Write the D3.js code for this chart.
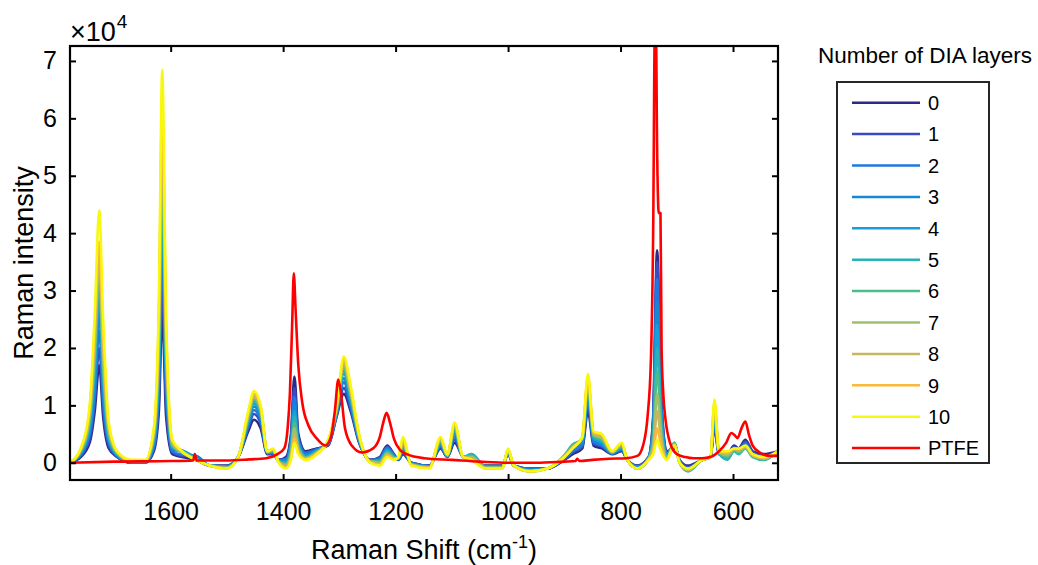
<!DOCTYPE html>
<html>
<head>
<meta charset="utf-8">
<script src="https://cdn.jsdelivr.net/npm/d3@7"></script>
<style>
    body { margin: 0; background: #fff; }
    svg { font-family: "Liberation Sans", Arial, sans-serif; }
</style>
</head>
<body>
<div id="chart"></div>
<script>
// Raman shift grid (cm^-1) shared by the DIA layer spectra
const shift = [
    1780, 1760, 1744, 1735, 1727, 1720, 1710, 1695, 1670, 1645,
    1630, 1621, 1615, 1608, 1597, 1580, 1555, 1530, 1500, 1480,
    1462, 1452, 1440, 1428, 1418, 1408, 1395, 1386, 1380, 1373,
    1360, 1340, 1320, 1305, 1292, 1280, 1265, 1245, 1228, 1215,
    1203, 1195, 1187, 1172, 1140, 1120, 1108, 1095, 1080, 1065,
    1040, 1010, 1000, 990, 960, 930, 900, 885, 868, 858,
    848, 833, 815, 798, 788, 770, 750, 742, 735, 728,
    718, 704, 695, 680, 655, 640, 633, 625, 610, 598,
    590, 578, 565, 545, 520
];

// intensities in units of 10^4 counts
const layer0 = [
    0, .10, .35, .9, 1.7, .8, .25, .1, 0, 0,
    .2, .9, 2.6, .8, .15, .1, .05, -.05, -.05, .1,
    .55, .75, .6, .15, .15, .05, .1, .5, 1.5, .5,
    .2, .25, .3, .8, 1.2, .9, .35, .05, .1, .3,
    .15, .05, .15, 0, -.05, .25, .1, .35, .1, .05,
    -.05, -.05, .15, -.05, -.1, -.1, .05, .15, .25, .9,
    .3, .25, .15, .2, .05, -.05, .1, .8, 3.7, 1.2,
    .2, .25, .05, -.05, .05, .1, .6, .15, .15, .3,
    .25, .4, .2, .15, .2
];
const layer1 = [
    0, .12, .42, 1.05, 2.0, .95, .3, .1, 0, 0,
    .24, 1.1, 3.1, 1.0, .18, .12, .1, -.05, -.06, .1,
    .6, .85, .68, .16, .16, .05, .08, .45, 1.3, .45,
    .18, .24, .31, .82, 1.3, .95, .37, .05, .09, .28,
    .14, .05, .18, 0, -.05, .27, .1, .4, .1, .06,
    -.06, -.06, .16, -.05, -.1, -.1, .06, .18, .28, 1.0,
    .33, .28, .16, .22, .05, -.06, .1, .75, 3.5, 1.15,
    .18, .28, .04, -.07, .05, .1, .65, .15, .12, .28,
    .23, .37, .18, .12, .2
];
const layer2 = [
    0, .14, .5, 1.2, 2.3, 1.1, .35, .12, .01, .01,
    .28, 1.3, 3.6, 1.2, .2, .14, .12, -.05, -.06, .1,
    .65, .92, .74, .17, .17, .04, .06, .4, 1.15, .4,
    .16, .23, .32, .84, 1.4, 1.0, .38, .04, .07, .26,
    .13, .06, .2, -.01, -.06, .29, .11, .45, .1, .08,
    -.06, -.06, .17, -.05, -.11, -.1, .07, .2, .31, 1.1,
    .36, .3, .16, .23, .05, -.06, .09, .68, 3.2, 1.05,
    .16, .3, .03, -.09, .05, .1, .7, .16, .1, .26,
    .21, .34, .16, .1, .2
];
const layer3 = [
    0, .15, .55, 1.35, 2.6, 1.25, .38, .12, .01, .01,
    .32, 1.5, 4.0, 1.4, .23, .2, .1, -.05, -.07, .1,
    .68, .98, .79, .17, .18, .04, .04, .35, 1.0, .37,
    .14, .22, .33, .86, 1.47, 1.05, .4, .04, .06, .24,
    .12, .06, .22, -.01, -.06, .31, .11, .5, .1, .12,
    -.07, -.07, .18, -.05, -.12, -.1, .09, .25, .34, 1.15,
    .39, .33, .17, .25, .05, -.07, .09, .6, 2.8, .95,
    .14, .33, .02, -.11, .05, .1, .75, .16, .08, .24,
    .19, .31, .14, .08, .2
];
const layer4 = [
    0, .17, .62, 1.55, 2.9, 1.4, .42, .14, .02, .02,
    .36, 1.7, 4.4, 1.55, .26, .22, .08, -.05, -.07, .1,
    .72, 1.03, .83, .18, .19, .03, .02, .3, .9, .33,
    .12, .21, .34, .88, 1.55, 1.1, .41, .03, .04, .22,
    .11, .07, .25, -.02, -.07, .33, .12, .55, .1, .15,
    -.07, -.07, .19, -.05, -.13, -.1, .11, .3, .37, 1.2,
    .42, .35, .17, .26, .05, -.08, .08, .5, 2.4, .85,
    .12, .35, .01, -.13, .05, .1, .8, .17, .06, .22,
    .17, .28, .12, .06, .2
];
const layer5 = [
    0, .18, .68, 1.7, 3.1, 1.55, .46, .15, .02, .02,
    .4, 1.85, 4.7, 1.7, .28, .2, .07, -.05, -.08, .1,
    .75, 1.07, .87, .18, .2, .03, 0, .25, .8, .3,
    .1, .2, .35, .9, 1.6, 1.14, .43, .03, .03, .2,
    .1, .07, .28, -.02, -.07, .35, .12, .58, .1, .15,
    -.08, -.08, .2, -.05, -.15, -.1, .13, .32, .4, 1.3,
    .45, .38, .18, .28, .05, -.1, .08, .42, 2.0, .75,
    .1, .35, 0, -.15, .05, .1, .85, .17, .06, .2,
    .15, .25, .1, .05, .2
];
const layer6 = [
    0, .2, .75, 1.85, 3.3, 1.7, .5, .16, .03, .03,
    .44, 2.0, 5.0, 1.85, .3, .18, .06, -.05, -.08, .1,
    .78, 1.1, .9, .19, .21, .02, -.02, .2, .7, .27,
    .09, .19, .36, .92, 1.65, 1.18, .44, .02, .02, .18,
    .09, .08, .31, -.03, -.08, .37, .13, .6, .1, .12,
    -.08, -.08, .21, -.05, -.14, -.1, .12, .3, .42, 1.35,
    .47, .4, .18, .29, .05, -.1, .07, .35, 1.6, .62,
    .09, .34, 0, -.14, .05, .1, .9, .18, .1, .22,
    .17, .26, .11, .06, .2
];
const layer7 = [
    0, .21, .8, 2.0, 3.5, 1.85, .55, .17, .03, .03,
    .48, 2.2, 5.4, 2.0, .33, .18, .06, -.05, -.09, .1,
    .81, 1.14, .93, .19, .22, .02, -.04, .15, .6, .24,
    .08, .18, .37, .94, 1.7, 1.22, .46, .02, 0, .16,
    .08, .08, .34, -.03, -.08, .39, .13, .63, .1, .1,
    -.09, -.09, .22, -.05, -.14, -.1, .11, .28, .43, 1.4,
    .49, .43, .19, .31, .05, -.1, .07, .28, 1.2, .5,
    .08, .33, 0, -.13, .05, .1, .95, .18, .13, .23,
    .2, .27, .12, .07, .2
];
const layer8 = [
    0, .22, .87, 2.2, 3.7, 2.0, .6, .18, .04, .04,
    .52, 2.4, 5.8, 2.15, .35, .2, .05, -.05, -.09, .1,
    .84, 1.17, .95, .2, .23, .01, -.06, .12, .5, .2,
    .07, .17, .38, .96, 1.75, 1.26, .47, .01, -.02, .14,
    .07, .09, .37, -.04, -.09, .41, .14, .65, .1, .08,
    -.09, -.09, .23, -.05, -.15, -.1, .1, .27, .44, 1.45,
    .51, .45, .19, .32, .05, -.1, .06, .22, .9, .4,
    .07, .32, 0, -.12, .05, .1, 1.0, .19, .16, .24,
    .22, .28, .13, .08, .2
];
const layer9 = [
    0, .24, .93, 2.35, 3.85, 2.2, .65, .19, .04, .04,
    .56, 2.6, 6.2, 2.3, .38, .2, .05, -.05, -.1, .1,
    .87, 1.2, .98, .2, .24, .01, -.08, .08, .42, .18,
    .06, .16, .39, .98, 1.8, 1.3, .49, .01, -.03, .12,
    .06, .09, .4, -.04, -.09, .43, .14, .68, .1, .06,
    -.1, -.1, .24, -.05, -.15, -.1, .1, .26, .45, 1.5,
    .53, .48, .2, .34, .05, -.1, .06, .18, .6, .3,
    .06, .31, 0, -.11, .05, .1, 1.05, .19, .18, .25,
    .24, .29, .14, .09, .2
];
const layer10 = [
    0, .25, 1.0, 2.6, 4.4, 2.5, .7, .2, .05, .05,
    .6, 2.8, 6.85, 2.5, .4, .2, .05, -.05, -.1, .1,
    .9, 1.25, 1.0, .2, .25, 0, -.1, .05, .35, .15,
    .05, .15, .4, 1.0, 1.85, 1.35, .5, 0, -.05, .1,
    .05, .1, .45, -.05, -.1, .45, .15, .7, .1, .05,
    -.1, -.1, .25, -.05, -.15, -.1, .1, .25, .45, 1.55,
    .55, .5, .2, .35, .05, -.1, .05, .15, .4, .2,
    .05, .3, 0, -.1, .05, .1, 1.1, .2, .2, .25,
    .25, .3, .15, .1, .2
];

const ptfeShift = [
    1780, 1700, 1600, 1560, 1557, 1554, 1500, 1460, 1430, 1410,
    1398, 1392, 1388, 1384, 1381, 1378, 1373, 1366, 1355, 1340,
    1325, 1315, 1308, 1302, 1297, 1290, 1278, 1260, 1240, 1228,
    1222, 1216, 1210, 1203, 1192, 1180, 1150, 1100, 1050, 1000,
    950, 900, 880, 877, 873, 850, 820, 790, 770, 760,
    752, 746, 742, 739, 737, 735, 732, 729, 727, 724,
    720, 712, 700, 685, 670, 655, 640, 625, 612, 603,
    597, 592, 585, 578, 572, 565, 551, 535, 520
];
const ptfeIntensity = [
    0.0, 0.02, 0.03, 0.04, 0.15, 0.04, 0.04, 0.06, 0.08, 0.15,
    0.25, 0.6, 1.2, 2.4, 3.3, 2.7, 1.7, 1.05, 0.65, 0.42,
    0.3, 0.45, 0.9, 1.45, 1.2, 0.6, 0.3, 0.18, 0.25, 0.45,
    0.7, 0.87, 0.7, 0.42, 0.22, 0.15, 0.08, 0.05, 0.02, 0.0,
    0.0, 0.02, 0.03, 0.07, 0.03, 0.05, 0.07, 0.08, 0.12, 0.3,
    0.8, 1.8, 4.0, 7.5, 7.5, 5.5, 4.35, 4.35, 2.0, 1.2,
    0.75, 0.35, 0.15, 0.1, 0.08, 0.08, 0.1, 0.2, 0.35, 0.52,
    0.48, 0.43, 0.6, 0.72, 0.5, 0.3, 0.17, 0.12, 0.12
];

const layerNames = ["0", "1", "2", "3", "4", "5", "6", "7", "8", "9", "10"];
const layerColors = [
    "#2c2a86", "#3a4ac0", "#1f78e0", "#1489d2", "#169fd8", "#27b2b8",
    "#4cbd8a", "#9dc06c", "#c7b65d", "#fbb83c", "#f8f80f"
];
const xTicks = [1600, 1400, 1200, 1000, 800, 600];
const yTicks = [0, 1, 2, 3, 4, 5, 6, 7];

function RamanVis(parent) {
    let vis = this;

    vis.parent = d3.select(parent);
    vis.series = [layer0, layer1, layer2, layer3, layer4, layer5,
        layer6, layer7, layer8, layer9, layer10].map(function(vals, i) {
        return {
            name: layerNames[i],
            color: layerColors[i],
            values: shift.map((s, j) => ({x: s, y: vals[j]}))
        };
    });
    vis.series.push({
        name: "PTFE",
        color: "#ff0000",
        values: ptfeShift.map((s, j) => ({x: s, y: ptfeIntensity[j]}))
    });

    vis.initVis();
}

RamanVis.prototype.initVis = function() {
    let vis = this;

    vis.margin = {"top": 46, "left": 70, "right": 260, "bottom": 85};
    vis.width = 1038 - vis.margin.left - vis.margin.right;
    vis.height = 565 - vis.margin.top - vis.margin.bottom;

    vis.root = vis.parent.append("svg")
        .attr("width", 1038)
        .attr("height", 565);

    vis.svg = vis.root.append("g")
        .attr("transform", "translate(" + vis.margin.left + "," + vis.margin.top + ")");

    vis.x = d3.scaleLinear()
        .domain([1779, 520])
        .range([0, vis.width]);
    vis.y = d3.scaleLinear()
        .domain([-0.3, 7.26])
        .range([vis.height, 0]);

    vis.svg.append("clipPath")
        .attr("id", "plot-clip")
        .append("rect")
        .attr("width", vis.width)
        .attr("height", vis.height);

    vis.lineGroup = vis.svg.append("g")
        .attr("clip-path", "url(#plot-clip)");

    // axes, ticks pointing inward like MATLAB
    vis.svg.append("g")
        .attr("class", "axis")
        .attr("transform", "translate(0," + vis.height + ")")
        .call(d3.axisBottom(vis.x).tickValues(xTicks).tickSize(-6).tickPadding(22)
            .tickFormat(d3.format("d")));
    vis.svg.append("g")
        .attr("class", "axis")
        .call(d3.axisTop(vis.x).tickValues(xTicks).tickSize(-6).tickFormat(""));
    vis.svg.append("g")
        .attr("class", "axis")
        .call(d3.axisLeft(vis.y).tickValues(yTicks).tickSize(-6).tickPadding(13)
            .tickFormat(d3.format("d")));
    vis.svg.append("g")
        .attr("class", "axis")
        .attr("transform", "translate(" + vis.width + ",0)")
        .call(d3.axisRight(vis.y).tickValues(yTicks).tickSize(-6).tickFormat(""));

    vis.svg.selectAll(".axis .domain").remove();
    vis.svg.selectAll(".axis line")
        .attr("stroke", "#000")
        .attr("stroke-width", 2);
    vis.svg.selectAll(".axis text")
        .attr("fill", "#000")
        .style("font-family", "Liberation Sans, Arial, sans-serif")
        .style("font-size", "25px");

    vis.svg.append("rect")
        .attr("width", vis.width)
        .attr("height", vis.height)
        .attr("fill", "none")
        .attr("stroke", "#000")
        .attr("stroke-width", 2.2);

    // x10^4 multiplier
    let expo = vis.root.append("text")
        .attr("x", 70)
        .attr("y", 41)
        .style("font-size", "27px")
        .text("\u00d710");
    expo.append("tspan")
        .attr("dx", 1)
        .attr("dy", -13)
        .style("font-size", "19px")
        .text("4");

    let xLabel = vis.root.append("text")
        .attr("x", vis.margin.left + vis.width / 2)
        .attr("y", 559)
        .attr("text-anchor", "middle")
        .style("font-size", "27px")
        .text("Raman Shift (cm");
    xLabel.append("tspan")
        .attr("dy", -11)
        .style("font-size", "18px")
        .text("-1");
    xLabel.append("tspan")
        .attr("dy", 11)
        .text(")");

    vis.root.append("text")
        .attr("transform", "translate(33," + (vis.margin.top + vis.height / 2) + ") rotate(-90)")
        .attr("text-anchor", "middle")
        .style("font-size", "27px")
        .text("Raman intensity");

    vis.updateVis();
    vis.drawLegend();
};

RamanVis.prototype.updateVis = function() {
    let vis = this;

    let line = d3.line()
        .x(d => vis.x(d.x))
        .y(d => vis.y(d.y))
        .curve(d3.curveMonotoneX);

    vis.lineGroup.selectAll("path.spectrum")
        .data(vis.series)
        .enter()
        .append("path")
        .attr("class", "spectrum")
        .attr("d", d => line(d.values))
        .style("fill", "none")
        .style("stroke", d => d.color)
        .style("stroke-width", 2.6)
        .style("stroke-linejoin", "round");
};

RamanVis.prototype.drawLegend = function() {
    let vis = this;

    let legend = vis.root.append("g")
        .attr("class", "legend");

    legend.append("text")
        .attr("x", 925)
        .attr("y", 63)
        .attr("text-anchor", "middle")
        .style("font-size", "22.5px")
        .text("Number of DIA layers");

    legend.append("rect")
        .attr("x", 837)
        .attr("y", 82)
        .attr("width", 152)
        .attr("height", 381)
        .attr("fill", "#fff")
        .attr("stroke", "#262626")
        .attr("stroke-width", 2);

    let rows = legend.selectAll("g.row")
        .data(vis.series)
        .enter()
        .append("g")
        .attr("class", "row")
        .attr("transform", (d, i) => "translate(0," + (102.7 + i * 31.4) + ")");

    rows.append("line")
        .attr("x1", 852)
        .attr("x2", 920)
        .style("stroke", d => d.color)
        .style("stroke-width", 2.5);

    rows.append("text")
        .attr("x", 928)
        .attr("dy", "0.36em")
        .style("font-size", "20px")
        .text(d => d.name);
};

new RamanVis("#chart");
</script>
</body>
</html>
